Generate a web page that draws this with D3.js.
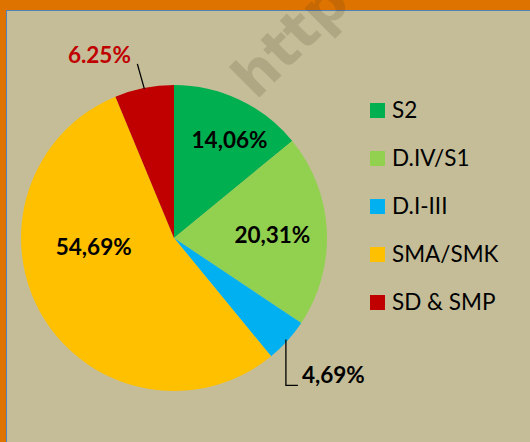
<!DOCTYPE html>
<html>
<head>
<meta charset="utf-8">
<script src="https://cdn.jsdelivr.net/npm/d3@7"></script>
<style>
  html, body { margin: 0; padding: 0; background: #c4bd97; }
  svg { display: block; }
</style>
</head>
<body>
<svg id="chart" width="530" height="442"></svg>
<script>
// chart data
const categories = ['S2', 'D.IV/S1', 'D.I-III', 'SMA/SMK', 'SD & SMP'];
const percents = [14.06, 20.31, 4.69, 54.69, 6.25];
const labels = ['14,06%', '20,31%', '4,69%', '54,69%', '6.25%'];
const colors = ['#00b050', '#92d050', '#00b0f0', '#ffc000', '#c00000'];

const FONT = 'Lato, "Open Sans", sans-serif';

let svg = d3.select('#chart');
const width = 530, height = 442;

// frame: orange band top/left, thin blue edge
svg.append('rect')
  .attr('width', width)
  .attr('height', height)
  .attr('fill', '#de7300');

svg.append('rect')
  .attr('x', 6.5)
  .attr('y', 10.5)
  .attr('width', width + 20)
  .attr('height', height + 20)
  .attr('fill', '#c4bd97')
  .attr('stroke', '#4f81bd')
  .attr('stroke-width', 1);

const cx = 174, cy = 238, R = 153;

let data = categories.map((c, i) => ({ name: c, value: percents[i], label: labels[i], color: colors[i] }));

let pie = d3.pie()
  .sort(null)
  .value(d => d.value);

let arc = d3.arc()
  .innerRadius(0)
  .outerRadius(R);

let labelArc = d3.arc()
  .innerRadius(R * 0.65)
  .outerRadius(R * 0.65);

let arcs = pie(data);

let g = svg.append('g')
  .attr('transform', `translate(${cx}, ${cy})`);

g.selectAll('.slice')
  .data(arcs)
  .enter()
  .append('path')
  .attr('class', 'slice')
  .attr('d', arc)
  .attr('fill', d => d.data.color);

// inside labels (nudged from centroid the way excel "best fit" put them)
const nudge = { 'S2': [13, -8], 'D.IV/S1': [-1, 2], 'SMA/SMK': [5, -42] };
const FS = 22.5;

g.selectAll('.inlabel')
  .data(arcs.filter(d => nudge[d.data.name]))
  .enter()
  .append('text')
  .attr('class', 'inlabel')
  .attr('x', d => labelArc.centroid(d)[0] + nudge[d.data.name][0])
  .attr('y', d => labelArc.centroid(d)[1] + nudge[d.data.name][1] + FS * 0.36)
  .attr('text-anchor', 'middle')
  .attr('font-family', FONT)
  .attr('font-weight', 'bold')
  .attr('font-size', FS)
  .attr('fill', '#000')
  .text(d => d.data.label);

// outside labels with leader lines
function edge(d, r) {
  let a = (d.startAngle + d.endAngle) / 2;
  return [Math.sin(a) * r, -Math.cos(a) * r];
}

let blue = arcs[2], red = arcs[4];

let pb = edge(blue, R - 2);
g.append('path')
  .attr('d', `M${pb[0]},${pb[1]} V${pb[1] + 46} H${pb[0] + 12}`)
  .attr('fill', 'none')
  .attr('stroke', '#000')
  .attr('stroke-width', 1.3);

g.append('text')
  .attr('x', pb[0] + 16)
  .attr('y', pb[1] + 36 + FS * 0.36)
  .attr('font-family', FONT)
  .attr('font-weight', 'bold')
  .attr('font-size', FS)
  .attr('fill', '#000')
  .text(blue.data.label);

let pr = edge(red, R - 1);
g.append('line')
  .attr('x1', pr[0])
  .attr('y1', pr[1])
  .attr('x2', pr[0] - 7)
  .attr('y2', pr[1] - 25)
  .attr('stroke', '#000')
  .attr('stroke-width', 1.3);

g.append('text')
  .attr('x', pr[0] - 45)
  .attr('y', pr[1] - 34 + FS * 0.36)
  .attr('text-anchor', 'middle')
  .attr('font-family', FONT)
  .attr('font-weight', 'bold')
  .attr('font-size', FS)
  .attr('fill', red.data.color)
  .text(red.data.label);

// legend
let yLegend = d3.scalePoint()
  .domain(categories)
  .range([110, 302]);

let legend = svg.selectAll('.legend')
  .data(data)
  .enter()
  .append('g')
  .attr('class', 'legend')
  .attr('transform', d => `translate(370, ${yLegend(d.name)})`);

legend.append('rect')
  .attr('x', 0)
  .attr('y', -7)
  .attr('width', 15)
  .attr('height', 15)
  .attr('fill', d => d.color);

legend.append('text')
  .attr('x', 22)
  .attr('y', FS * 0.36)
  .attr('font-family', FONT)
  .attr('font-size', FS)
  .attr('fill', '#000')
  .text(d => d.name);

// watermark, runs off the top edge like in the original
svg.append('text')
  .attr('transform', 'translate(256, 101) rotate(-45)')
  .attr('font-family', '"DejaVu Sans", sans-serif')
  .attr('font-weight', 'bold')
  .attr('font-size', 57)
  .attr('fill', 'rgba(60, 50, 20, 0.15)')
  .text('http');
</script>
</body>
</html>
